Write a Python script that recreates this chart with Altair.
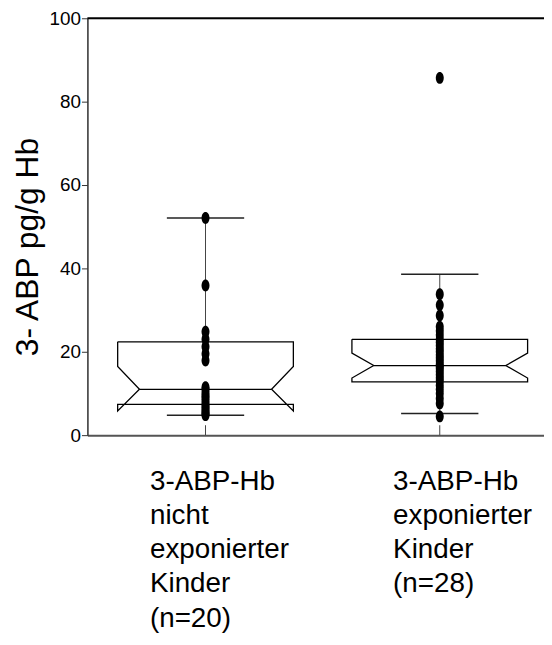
import altair as alt
import pandas as pd

# ---------------- data ----------------
group_labels = [
    "3-ABP-Hb\nnicht\nexponierter\nKinder\n(n=20)",
    "3-ABP-Hb\nexponierter\nKinder\n(n=28)",
]
group_pos = [1, 2]
q1 = [7.4, 12.8]
median = [11.0, 16.7]
q3 = [22.4, 23.0]
notch_lo = [5.8, 13.7]
notch_hi = [16.5, 19.7]
whisk_lo = [4.8, 5.2]
whisk_hi = [52.1, 38.6]

points_a = [52.1, 35.9, 24.8, 23.0, 21.2, 19.5, 17.9,
            11.5, 11.0, 10.2, 9.5, 9.0, 8.3, 7.6, 7.0, 6.5, 6.0, 5.5, 5.1, 4.8]
points_b = [85.7, 33.8, 31.2, 28.7,
            26.0, 25.0, 24.0, 23.0, 22.3, 21.5, 20.7, 20.0, 19.2, 18.5, 17.8,
            17.0, 16.5, 16.0, 15.3, 14.5, 13.7, 13.0, 12.0, 11.0, 10.0, 8.8, 7.6,
            4.5]

y_ticks = [0, 20, 40, 60, 80, 100]

# ---------------- style constants ----------------
BOX_HALF = 0.375
NOTCH_IN = 0.093
CAP_HALF = 0.165
LABEL_DX = [-56, -47]
FONT = "Liberation Sans"

# ---------------- tables ----------------
outline_rows = []
for g, p in enumerate(group_pos):
    L, R = p - BOX_HALF, p + BOX_HALF
    verts = [
        (L, q3[g]), (R, q3[g]), (R, notch_hi[g]), (R - NOTCH_IN, median[g]),
        (R, notch_lo[g]), (R, q1[g]), (L, q1[g]), (L, notch_lo[g]),
        (L + NOTCH_IN, median[g]), (L, notch_hi[g]), (L, q3[g]),
    ]
    for i, (xx, yy) in enumerate(verts):
        outline_rows.append({"g": g, "x": xx, "y": yy, "o": i})
outline = pd.DataFrame(outline_rows)

stats = pd.DataFrame({
    "g": [0, 1], "pos": group_pos, "q1": q1, "median": median, "q3": q3,
    "wlo": whisk_lo, "whi": whisk_hi,
    "ml": [p - BOX_HALF + NOTCH_IN for p in group_pos],
    "mr": [p + BOX_HALF - NOTCH_IN for p in group_pos],
    "cl": [p - CAP_HALF for p in group_pos],
    "cr": [p + CAP_HALF for p in group_pos],
    "label": group_labels,
})

pts = pd.DataFrame({
    "pos": [group_pos[0]] * len(points_a) + [group_pos[1]] * len(points_b),
    "v": points_a + points_b,
})

xs = alt.Scale(domain=[0.4958, 2.445], nice=False, zero=False)
ys = alt.Scale(domain=[0, 100], nice=False)

X = lambda f: alt.X(f, type="quantitative", scale=xs, axis=None)
Y = lambda f: alt.Y(f, type="quantitative", scale=ys, axis=None)

# axes layer
axes = alt.Chart(pd.DataFrame({"v": [0]})).mark_point(opacity=0).encode(
    x=alt.X("v:Q", scale=xs, axis=alt.Axis(
        labels=False, ticks=False, grid=False, title=None,
        domainColor="#555555", domainWidth=2)),
    y=alt.Y("v:Q", scale=ys, axis=alt.Axis(
        values=y_ticks, grid=False, title="3- ABP pg/g Hb",
        tickSize=6, tickColor="#333333", tickWidth=1,
        domainColor="#333333", domainWidth=1.5,
        labelFont=FONT, labelFontSize=19, labelColor="black", labelPadding=1,
        titleFont=FONT, titleFontSize=32, titleFontWeight="normal", titleColor="black",
        titleAngle=270, titleBaseline="alphabetic", titleAlign="center",
        titleX=-50, titleY=230)),
)

top_border = alt.Chart(pd.DataFrame({"t": [100]})).mark_rule(
    color="black", strokeWidth=2).encode(
    y=Y("t"), x=alt.value(0), x2=alt.value(460))

whisk_up = alt.Chart(stats).mark_rule(color="#444444", strokeWidth=1).encode(
    x=X("pos"), y=Y("q3"), y2="whi")
whisk_dn = alt.Chart(stats).mark_rule(color="#444444", strokeWidth=1).encode(
    x=X("pos"), y=Y("wlo"), y2="q1")
cap_hi = alt.Chart(stats).mark_rule(color="#222222", strokeWidth=1.5).encode(
    x=X("cl"), x2="cr", y=Y("whi"))
cap_lo = alt.Chart(stats).mark_rule(color="#222222", strokeWidth=1.5).encode(
    x=X("cl"), x2="cr", y=Y("wlo"))

box = alt.Chart(outline).mark_line(color="black", strokeWidth=1.3).encode(
    x=X("x"), y=Y("y"), order="o:Q", detail="g:N")
med = alt.Chart(stats).mark_rule(color="black", strokeWidth=1.3).encode(
    x=X("ml"), x2="mr", y=Y("median"))

xticks = alt.Chart(stats).mark_rule(color="#444444", strokeWidth=1).encode(
    x=X("pos"), y=alt.value(410), y2=alt.value(420))

ellipse = "M0,-1 A0.667,1 0 1,1 0,1 A0.667,1 0 1,1 0,-1 Z"
dots = alt.Chart(pts).mark_point(
    shape=ellipse, filled=True, color="black", opacity=1, size=144).encode(
    x=X("pos"), y=Y("v"))

labels = []
for g in range(len(group_pos)):
    labels.append(
        alt.Chart(stats[stats["g"] == g]).mark_text(
            align="left", baseline="alphabetic", dx=LABEL_DX[g],
            font=FONT, fontSize=28, lineBreak="\n", lineHeight=34.5,
            color="black").encode(
            x=X("pos"), y=alt.value(475), text="label:N"))

chart = alt.layer(
    axes, top_border, whisk_up, whisk_dn, cap_hi, cap_lo, box, med,
    xticks, dots, *labels
).resolve_axis(x="independent", y="independent").properties(
    width=460, height=420,
    autosize=alt.AutoSizeParams(type="none"),
    padding={"left": 80, "top": 8, "right": 0, "bottom": 201},
).configure_view(stroke=None).configure(background="white")

chart.save("out.html", embed_options={"renderer": "svg", "actions": False})
